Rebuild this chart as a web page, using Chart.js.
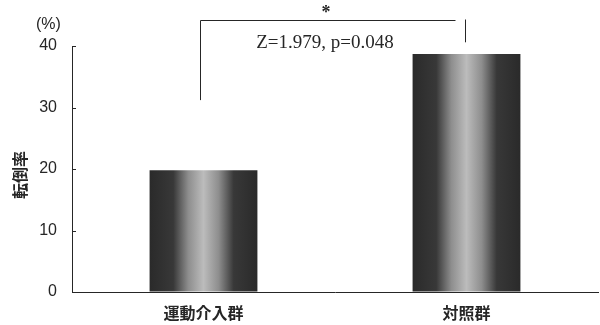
<!DOCTYPE html>
<html>
<head>
<meta charset="utf-8">
<script src="https://cdn.jsdelivr.net/npm/chart.js@4"></script>
<style>
  html, body { margin: 0; padding: 0; background: #fff; }
  #wrap { width: 600px; height: 325px; }
</style>
</head>
<body>
<div id="wrap"><canvas id="myChart"></canvas></div>
<script>
// Data
const groups = ['運動介入群', '対照群'];
const fallRate = [19.8, 38.7];
const yTicks = [0, 10, 20, 30, 40];
const statText = 'Z=1.979, p=0.048';

const ink = '#262626';
const BAR_PCT = 0.41;

// dark edges, light centre like the scanned bars
function barFill(ctx) {
  const chart = ctx.chart;
  const area = chart.chartArea;
  if (!area) return '#555';
  const xs = chart.scales.x;
  const cx = xs.getPixelForValue(ctx.dataIndex);
  const half = (area.width / groups.length) * BAR_PCT / 2;
  const g = chart.ctx.createLinearGradient(cx - half, 0, cx + half, 0);
  g.addColorStop(0, '#2a2a2a');
  g.addColorStop(0.22, '#383838');
  g.addColorStop(0.36, '#8e8e8e');
  g.addColorStop(0.5, '#bcbcbc');
  g.addColorStop(0.64, '#8e8e8e');
  g.addColorStop(0.78, '#383838');
  g.addColorStop(1, '#2a2a2a');
  return g;
}

// small ticks pointing inward, bracket, asterisk and test text
const extras = {
  id: 'extras',
  afterDraw(chart) {
    const c = chart.ctx;
    const y = chart.scales.y, x = chart.scales.x;
    const left = chart.chartArea.left;
    c.save();
    c.strokeStyle = ink;
    c.lineWidth = 1;
    c.beginPath();
    yTicks.forEach(v => {
      const py = Math.round(y.getPixelForValue(v)) + 0.5;
      c.moveTo(left, py);
      c.lineTo(left + 4, py);
    });
    // bracket
    const x1 = Math.round(x.getPixelForValue(0)) - 3.5;
    const x2 = Math.round(x.getPixelForValue(1)) - 1.5;
    const top = Math.round(y.getPixelForValue(44.3)) + 0.5;
    c.moveTo(x1, y.getPixelForValue(31.2));
    c.lineTo(x1, top);
    c.lineTo(x2 - 10, top);
    c.moveTo(x2, top - 1);
    c.lineTo(x2, y.getPixelForValue(40.6));
    c.stroke();

    c.fillStyle = ink;
    c.textAlign = 'center';
    c.textBaseline = 'middle';
    c.font = 'bold 18px "Liberation Serif"';
    c.fillText('*', (x1 + x2) / 2 - 7, 13);
    c.font = '19px "Liberation Serif"';
    c.fillText(statText, (x1 + x2) / 2 - 8, 43);

    c.font = '16px "Liberation Sans"';
    c.textAlign = 'left';
    c.fillText('(%)', 36, 25);

    // y title
    c.translate(20, 175);
    c.rotate(-Math.PI / 2);
    c.font = 'bold 16px "Noto Sans CJK JP"';
    c.textAlign = 'center';
    c.fillText('転倒率', 0, 0);
    c.restore();
  }
};

new Chart(document.getElementById('myChart'), {
  type: 'bar',
  data: {
    labels: groups,
    datasets: [{
      data: fallRate,
      backgroundColor: barFill,
      borderWidth: 0,
      barPercentage: BAR_PCT,
      categoryPercentage: 1
    }]
  },
  options: {
    responsive: true,
    maintainAspectRatio: false,
    animation: false,
    layout: { padding: { top: 46, right: 2, left: 0, bottom: 0 } },
    plugins: { legend: { display: false }, tooltip: { enabled: false } },
    scales: {
      x: {
        grid: { display: true, drawOnChartArea: false, drawTicks: false },
        border: { color: ink, width: 1 },
        ticks: {
          color: ink,
          padding: 11,
          font: { family: '"Noto Sans CJK JP"', size: 16, weight: 'bold' }
        },
        afterFit(s) { s.height = 33; }
      },
      y: {
        min: 0,
        max: 40,
        grid: { display: true, drawOnChartArea: false, drawTicks: false },
        border: { color: ink, width: 1 },
        ticks: {
          stepSize: 10,
          color: ink,
          padding: 15,
          font: { family: '"Liberation Sans"', size: 16 }
        },
        afterFit(s) { s.width = 72; }
      }
    }
  },
  plugins: [extras]
});
</script>
</body>
</html>
